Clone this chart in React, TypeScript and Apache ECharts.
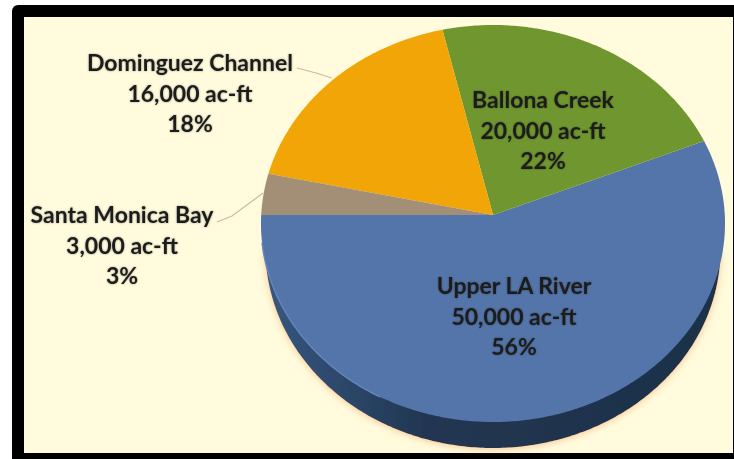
import React, { useEffect, useRef } from "react";
import * as echarts from "echarts";

const categories = ["Upper LA River", "Ballona Creek", "Dominguez Channel", "Santa Monica Bay"];
const volumes = [50000, 20000, 16000, 3000];
const percents = [56, 22, 18, 3];
const colors = ["#5475A9", "#70972F", "#F2A507", "#A28F75"];
const labelCenters = [[514, 270], [543, 84], [190, 47], [122, 199]];
const leaders: number[][][] = [
  [],
  [],
  [[297, 68], [316, 73], [332, 78]],
  [[217, 222], [232, 216], [263, 193]],
];

const CX = 493, CY = 223.5, RX = 232, RY = 198.5, APEX_Y = 215, DEPTH = 26, SHELL_RX = 227.5;
const START_ANGLE = 180;
const TOTAL = volumes.reduce((a, b) => a + b, 0);
const K = (CY - APEX_Y) / RY;

// Where a ray from the off-centre apex meets the tilted pie's elliptical rim.
function rimPoint(deg: number): number[] {
  const t = (deg * Math.PI) / 180;
  const c = Math.cos(t), s = Math.sin(t);
  const d = -K * s + Math.sqrt(1 - K * K * c * c);
  return [CX + RX * d * c, CY - RY * (K + d * s)];
}

function arc(from: number, to: number): number[][] {
  const n = Math.max(2, Math.ceil(Math.abs(to - from) * 1.5));
  const pts: number[][] = [];
  for (let i = 0; i <= n; i++) pts.push(rimPoint(from + ((to - from) * i) / n));
  return pts;
}

function shellArc(): number[][] {
  const pts: number[][] = [];
  for (let d = 180; d <= 360; d += 0.7) {
    const t = (d * Math.PI) / 180;
    pts.push([CX + SHELL_RX * Math.cos(t), CY + DEPTH - RY * Math.sin(t)]);
  }
  return pts;
}

function renderItem(params: any, api: any) {
  const i = params.dataIndex;
  const value = api.value(0);
  const before = volumes.slice(0, i).reduce((a, b) => a + b, 0);
  const a0 = START_ANGLE + (before / TOTAL) * 360;
  const a1 = a0 + (value / TOTAL) * 360;
  const children: any[] = [];

  const lowFrom = Math.max(a0, 180);
  const lowTo = Math.min(a1, 360);
  const hasRim = lowTo > lowFrom && a0 < 360 && a0 + 1 > 180 && i === 0;
  if (hasRim) {
    children.push({
      type: "polygon",
      shape: { points: shellArc() },
      style: {
        fill: new echarts.graphic.LinearGradient(0, 0, 1, 0, [
          { offset: 0, color: "#37577F" },
          { offset: 0.35, color: "#213652" },
          { offset: 1, color: "#1E3049" },
        ]),
        shadowBlur: 7,
        shadowColor: "rgba(240,170,110,0.65)",
        shadowOffsetY: 1,
      },
    });
  }
  children.push({
    type: "polygon",
    shape: { points: [[CX, APEX_Y], ...arc(a0, a1)] },
    style: { fill: colors[i] },
  });
  if (hasRim) {
    children.push({
      type: "polyline",
      shape: { points: arc(lowFrom + 8, lowFrom + 62) },
      style: { stroke: "#6485BA", lineWidth: 1.5, fill: "none" },
    });
  }
  if (leaders[i].length) {
    children.push({
      type: "polyline",
      shape: { points: leaders[i] },
      style: { stroke: "#CDB9A4", lineWidth: 1.2, fill: "none" },
    });
  }
  children.push({
    type: "text",
    x: labelCenters[i][0],
    y: labelCenters[i][1],
    style: {
      text: `${categories[i]}\n${value.toLocaleString("en-US")} ac-ft\n${percents[i]}%`,
      font: "700 23px Lato, sans-serif",
      lineHeight: 30.5,
      fill: "#1C1C1C",
      align: "center",
      verticalAlign: "top",
      textShadowColor: "rgba(0,0,0,0.35)",
      textShadowBlur: 2,
    },
  });
  return { type: "group", children };
}

export default function App() {
  const ref = useRef<HTMLDivElement>(null);
  useEffect(() => {
    const chart = echarts.init(ref.current!, null, { renderer: "svg" });
    chart.setOption({
      animation: false,
      backgroundColor: "#FFFFFF",
      graphic: [
        { type: "rect", z: 0, shape: { x: 12, y: 5, width: 740, height: 470, r: 6 }, style: { fill: "#000000" } },
        { type: "rect", z: 1, shape: { x: 24, y: 17, width: 709, height: 436 }, style: { fill: "#FFFBDC" } },
      ],
      series: [
        {
          type: "custom",
          coordinateSystem: "none",
          z: 5,
          silent: true,
          data: volumes.map((v, i) => ({ name: categories[i], value: [v] })),
          renderItem,
        },
      ],
    });
    return () => chart.dispose();
  }, []);
  return <div ref={ref} style={{ position: "absolute", left: 0, top: 0, width: 734, height: 459 }} />;
}
